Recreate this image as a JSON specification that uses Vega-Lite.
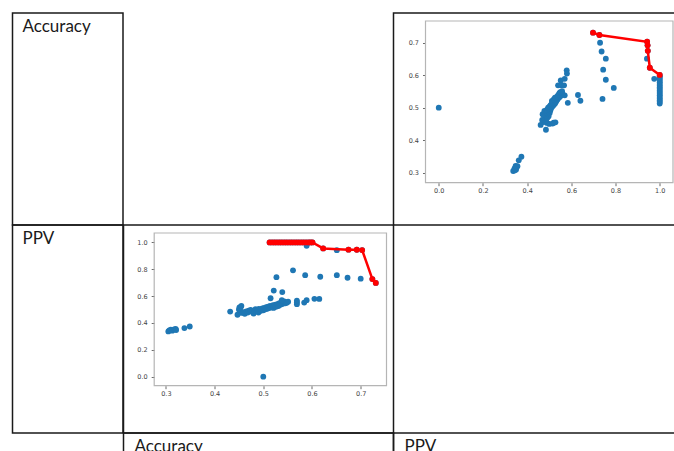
{
  "$schema": "https://vega.github.io/schema/vega-lite/v6.json",
  "padding": {"left": 11.5, "top": 12, "right": 0, "bottom": 0},
  "background": "white",
  "columns": 3,
  "spacing": 0,
  "align": "each",
  "bounds": "flush",
  "config": {
    "view": {"stroke": "#1a1a1a", "strokeWidth": 1.5},
    "axis": {"labelFont": "DejaVu Sans", "labelFontSize": 6.5, "labelColor": "#444", "tickColor": "#444", "tickSize": 3, "tickWidth": 0.8, "grid": false, "domain": false},
    "text": {"font": "Lato", "fontSize": 17, "color": "#1a1a1a"}
  },
  "datasets": {
    "pts": [
      {"acc": 0.305, "ppv": 0.337, "fa": 0, "fb": 0},
      {"acc": 0.307, "ppv": 0.345, "fa": 0, "fb": 0},
      {"acc": 0.31, "ppv": 0.35, "fa": 0, "fb": 0},
      {"acc": 0.313, "ppv": 0.343, "fa": 0, "fb": 0},
      {"acc": 0.317, "ppv": 0.352, "fa": 0, "fb": 0},
      {"acc": 0.32, "ppv": 0.356, "fa": 0, "fb": 0},
      {"acc": 0.321, "ppv": 0.348, "fa": 0, "fb": 0},
      {"acc": 0.338, "ppv": 0.362, "fa": 0, "fb": 0},
      {"acc": 0.349, "ppv": 0.374, "fa": 0, "fb": 0},
      {"acc": 0.5, "ppv": 0.0, "fa": 0, "fb": 0},
      {"acc": 0.432, "ppv": 0.485, "fa": 0, "fb": 0},
      {"acc": 0.447, "ppv": 0.461, "fa": 0, "fb": 0},
      {"acc": 0.45, "ppv": 0.5, "fa": 0, "fb": 0},
      {"acc": 0.451, "ppv": 0.515, "fa": 0, "fb": 0},
      {"acc": 0.454, "ppv": 0.52, "fa": 0, "fb": 0},
      {"acc": 0.455, "ppv": 0.528, "fa": 0, "fb": 0},
      {"acc": 0.453, "ppv": 0.49, "fa": 0, "fb": 0},
      {"acc": 0.456, "ppv": 0.475, "fa": 0, "fb": 0},
      {"acc": 0.46, "ppv": 0.48, "fa": 0, "fb": 0},
      {"acc": 0.462, "ppv": 0.468, "fa": 0, "fb": 0},
      {"acc": 0.465, "ppv": 0.487, "fa": 0, "fb": 0},
      {"acc": 0.468, "ppv": 0.478, "fa": 0, "fb": 0},
      {"acc": 0.47, "ppv": 0.492, "fa": 0, "fb": 0},
      {"acc": 0.474, "ppv": 0.497, "fa": 0, "fb": 0},
      {"acc": 0.477, "ppv": 0.484, "fa": 0, "fb": 0},
      {"acc": 0.48, "ppv": 0.47, "fa": 0, "fb": 0},
      {"acc": 0.482, "ppv": 0.49, "fa": 0, "fb": 0},
      {"acc": 0.484, "ppv": 0.502, "fa": 0, "fb": 0},
      {"acc": 0.486, "ppv": 0.486, "fa": 0, "fb": 0},
      {"acc": 0.488, "ppv": 0.495, "fa": 0, "fb": 0},
      {"acc": 0.49, "ppv": 0.478, "fa": 0, "fb": 0},
      {"acc": 0.491, "ppv": 0.505, "fa": 0, "fb": 0},
      {"acc": 0.494, "ppv": 0.49, "fa": 0, "fb": 0},
      {"acc": 0.496, "ppv": 0.5, "fa": 0, "fb": 0},
      {"acc": 0.498, "ppv": 0.508, "fa": 0, "fb": 0},
      {"acc": 0.5, "ppv": 0.495, "fa": 0, "fb": 0},
      {"acc": 0.502, "ppv": 0.512, "fa": 0, "fb": 0},
      {"acc": 0.504, "ppv": 0.502, "fa": 0, "fb": 0},
      {"acc": 0.506, "ppv": 0.517, "fa": 0, "fb": 0},
      {"acc": 0.508, "ppv": 0.506, "fa": 0, "fb": 0},
      {"acc": 0.51, "ppv": 0.522, "fa": 0, "fb": 0},
      {"acc": 0.512, "ppv": 0.511, "fa": 0, "fb": 0},
      {"acc": 0.514, "ppv": 0.527, "fa": 0, "fb": 0},
      {"acc": 0.516, "ppv": 0.516, "fa": 0, "fb": 0},
      {"acc": 0.518, "ppv": 0.522, "fa": 0, "fb": 0},
      {"acc": 0.52, "ppv": 0.532, "fa": 0, "fb": 0},
      {"acc": 0.521, "ppv": 0.512, "fa": 0, "fb": 0},
      {"acc": 0.523, "ppv": 0.527, "fa": 0, "fb": 0},
      {"acc": 0.525, "ppv": 0.537, "fa": 0, "fb": 0},
      {"acc": 0.526, "ppv": 0.521, "fa": 0, "fb": 0},
      {"acc": 0.528, "ppv": 0.531, "fa": 0, "fb": 0},
      {"acc": 0.53, "ppv": 0.542, "fa": 0, "fb": 0},
      {"acc": 0.531, "ppv": 0.526, "fa": 0, "fb": 0},
      {"acc": 0.533, "ppv": 0.547, "fa": 0, "fb": 0},
      {"acc": 0.535, "ppv": 0.536, "fa": 0, "fb": 0},
      {"acc": 0.537, "ppv": 0.552, "fa": 0, "fb": 0},
      {"acc": 0.539, "ppv": 0.541, "fa": 0, "fb": 0},
      {"acc": 0.541, "ppv": 0.556, "fa": 0, "fb": 0},
      {"acc": 0.543, "ppv": 0.56, "fa": 0, "fb": 0},
      {"acc": 0.545, "ppv": 0.546, "fa": 0, "fb": 0},
      {"acc": 0.546, "ppv": 0.555, "fa": 0, "fb": 0},
      {"acc": 0.548, "ppv": 0.55, "fa": 0, "fb": 0},
      {"acc": 0.551, "ppv": 0.558, "fa": 0, "fb": 0},
      {"acc": 0.538, "ppv": 0.57, "fa": 0, "fb": 0},
      {"acc": 0.569, "ppv": 0.54, "fa": 0, "fb": 0},
      {"acc": 0.569, "ppv": 0.555, "fa": 0, "fb": 0},
      {"acc": 0.569, "ppv": 0.567, "fa": 0, "fb": 0},
      {"acc": 0.584, "ppv": 0.552, "fa": 0, "fb": 0},
      {"acc": 0.589, "ppv": 0.57, "fa": 0, "fb": 0},
      {"acc": 0.515, "ppv": 0.584, "fa": 0, "fb": 0},
      {"acc": 0.615, "ppv": 0.579, "fa": 0, "fb": 0},
      {"acc": 0.605, "ppv": 0.58, "fa": 0, "fb": 0},
      {"acc": 0.539, "ppv": 0.63, "fa": 0, "fb": 0},
      {"acc": 0.5215, "ppv": 0.641, "fa": 0, "fb": 0},
      {"acc": 0.527, "ppv": 0.741, "fa": 0, "fb": 0},
      {"acc": 0.561, "ppv": 0.792, "fa": 0, "fb": 0},
      {"acc": 0.586, "ppv": 0.756, "fa": 0, "fb": 0},
      {"acc": 0.617, "ppv": 0.744, "fa": 0, "fb": 0},
      {"acc": 0.651, "ppv": 0.756, "fa": 0, "fb": 0},
      {"acc": 0.673, "ppv": 0.737, "fa": 0, "fb": 0},
      {"acc": 0.7, "ppv": 0.73, "fa": 0, "fb": 0},
      {"acc": 0.651, "ppv": 0.942, "fa": 0, "fb": 0},
      {"acc": 0.589, "ppv": 0.975, "fa": 0, "fb": 0},
      {"acc": 0.513, "ppv": 1.0, "fa": 0, "fb": 1},
      {"acc": 0.518, "ppv": 1.0, "fa": 0, "fb": 1},
      {"acc": 0.523, "ppv": 1.0, "fa": 0, "fb": 1},
      {"acc": 0.528, "ppv": 1.0, "fa": 0, "fb": 1},
      {"acc": 0.533, "ppv": 1.0, "fa": 0, "fb": 1},
      {"acc": 0.538, "ppv": 1.0, "fa": 0, "fb": 1},
      {"acc": 0.543, "ppv": 1.0, "fa": 0, "fb": 1},
      {"acc": 0.548, "ppv": 1.0, "fa": 0, "fb": 1},
      {"acc": 0.553, "ppv": 1.0, "fa": 0, "fb": 1},
      {"acc": 0.558, "ppv": 1.0, "fa": 0, "fb": 1},
      {"acc": 0.563, "ppv": 1.0, "fa": 0, "fb": 1},
      {"acc": 0.568, "ppv": 1.0, "fa": 0, "fb": 1},
      {"acc": 0.573, "ppv": 1.0, "fa": 0, "fb": 1},
      {"acc": 0.578, "ppv": 1.0, "fa": 0, "fb": 1},
      {"acc": 0.583, "ppv": 1.0, "fa": 0, "fb": 1},
      {"acc": 0.588, "ppv": 1.0, "fa": 0, "fb": 1},
      {"acc": 0.593, "ppv": 1.0, "fa": 0, "fb": 1},
      {"acc": 0.597, "ppv": 1.0, "fa": 0, "fb": 1},
      {"acc": 0.601, "ppv": 1.0, "fa": 1, "fb": 1},
      {"acc": 0.623, "ppv": 0.955, "fa": 1, "fb": 1},
      {"acc": 0.675, "ppv": 0.946, "fa": 1, "fb": 1},
      {"acc": 0.692, "ppv": 0.945, "fa": 1, "fb": 1},
      {"acc": 0.703, "ppv": 0.943, "fa": 1, "fb": 1},
      {"acc": 0.724, "ppv": 0.727, "fa": 1, "fb": 1},
      {"acc": 0.731, "ppv": 0.698, "fa": 1, "fb": 1}
    ]
  },
  "concat": [
    {
      "width": 110.5, "height": 212,
      "data": {"values": [{"label": "Accuracy"}]},
      "mark": {"type": "text", "align": "left", "baseline": "alphabetic", "dx": 10, "dy": 19},
      "encoding": {
        "x": {"datum": 0, "type": "quantitative", "scale": {"domain": [0, 1]}, "axis": null},
        "y": {"datum": 1, "type": "quantitative", "scale": {"domain": [0, 1]}, "axis": null},
        "text": {"field": "label"}
      }
    },
    {
      "width": 270, "height": 212,
      "data": {"values": []},
      "mark": "point",
      "encoding": {}
    },
    {
      "width": 290, "height": 212,
      "data": {"name": "pts"},
      "layer": [
        {
          "data": {"values": [{}]},
          "mark": {"type": "rect", "fill": "transparent", "stroke": "#b5b5b5", "strokeWidth": 1.2},
          "encoding": {
            "x": {"datum": -0.06, "type": "quantitative"},
            "x2": {"datum": 1.06},
            "y": {"datum": 0.269, "type": "quantitative"},
            "y2": {"datum": 0.767}
          }
        },
        {
          "mark": {"type": "circle", "size": 34, "opacity": 1, "color": "#1f77b4"},
          "encoding": {
            "x": {"field": "ppv", "type": "quantitative", "scale": {"domain": [-0.06, 1.06], "range": [32, 279.5], "nice": false, "zero": false},
                  "axis": {"orient": "bottom", "offset": -42.3, "values": [0, 0.2, 0.4, 0.6, 0.8, 1.0], "format": ".1f", "title": null, "labelPadding": 2}},
            "y": {"field": "acc", "type": "quantitative", "scale": {"domain": [0.269, 0.767], "range": [169.7, 8], "nice": false, "zero": false},
                  "axis": {"orient": "left", "offset": -32, "values": [0.3, 0.4, 0.5, 0.6, 0.7], "format": ".1f", "title": null, "labelPadding": 4}}
          }
        },
        {
          "transform": [{"filter": "datum.fa == 1"}],
          "mark": {"type": "line", "color": "#ff0000", "strokeWidth": 2.5},
          "encoding": {
            "x": {"field": "ppv", "type": "quantitative"},
            "y": {"field": "acc", "type": "quantitative"}
          }
        },
        {
          "transform": [{"filter": "datum.fa == 1"}],
          "mark": {"type": "circle", "size": 34, "opacity": 1, "color": "#ff0000"},
          "encoding": {
            "x": {"field": "ppv", "type": "quantitative"},
            "y": {"field": "acc", "type": "quantitative"}
          }
        }
      ]
    },
    {
      "width": 110.5, "height": 208,
      "data": {"values": [{"label": "PPV"}]},
      "mark": {"type": "text", "align": "left", "baseline": "alphabetic", "dx": 10, "dy": 19},
      "encoding": {
        "x": {"datum": 0, "type": "quantitative", "scale": {"domain": [0, 1]}, "axis": null},
        "y": {"datum": 1, "type": "quantitative", "scale": {"domain": [0, 1]}, "axis": null},
        "text": {"field": "label"}
      }
    },
    {
      "width": 270, "height": 208,
      "data": {"name": "pts"},
      "layer": [
        {
          "data": {"values": [{}]},
          "mark": {"type": "rect", "fill": "transparent", "stroke": "#b5b5b5", "strokeWidth": 1.2},
          "encoding": {
            "x": {"datum": 0.276, "type": "quantitative"},
            "x2": {"datum": 0.753},
            "y": {"datum": -0.067, "type": "quantitative"},
            "y2": {"datum": 1.07}
          }
        },
        {
          "mark": {"type": "circle", "size": 34, "opacity": 1, "color": "#1f77b4"},
          "encoding": {
            "x": {"field": "acc", "type": "quantitative", "scale": {"domain": [0.276, 0.753], "range": [30.7, 263], "nice": false, "zero": false},
                  "axis": {"orient": "bottom", "offset": -47.3, "values": [0.3, 0.4, 0.5, 0.6, 0.7], "format": ".1f", "title": null, "labelPadding": 2}},
            "y": {"field": "ppv", "type": "quantitative", "scale": {"domain": [-0.067, 1.07], "range": [160.7, 8], "nice": false, "zero": false},
                  "axis": {"orient": "left", "offset": -30.7, "values": [0, 0.2, 0.4, 0.6, 0.8, 1.0], "format": ".1f", "title": null, "labelPadding": 4}}
          }
        },
        {
          "transform": [{"filter": "datum.fb == 1"}],
          "mark": {"type": "line", "color": "#ff0000", "strokeWidth": 2.5},
          "encoding": {
            "x": {"field": "acc", "type": "quantitative"},
            "y": {"field": "ppv", "type": "quantitative"}
          }
        },
        {
          "transform": [{"filter": "datum.fb == 1"}],
          "mark": {"type": "circle", "size": 34, "opacity": 1, "color": "#ff0000"},
          "encoding": {
            "x": {"field": "acc", "type": "quantitative"},
            "y": {"field": "ppv", "type": "quantitative"}
          }
        }
      ]
    },
    {
      "width": 290, "height": 208,
      "data": {"values": []},
      "mark": "point",
      "encoding": {}
    },
    {
      "width": 110.5, "height": 40,
      "data": {"values": []},
      "mark": "point",
      "encoding": {}
    },
    {
      "width": 270, "height": 40,
      "data": {"values": [{"label": "Accuracy"}]},
      "mark": {"type": "text", "align": "left", "baseline": "alphabetic", "dx": 11, "dy": 19},
      "encoding": {
        "x": {"datum": 0, "type": "quantitative", "scale": {"domain": [0, 1]}, "axis": null},
        "y": {"datum": 1, "type": "quantitative", "scale": {"domain": [0, 1]}, "axis": null},
        "text": {"field": "label"}
      }
    },
    {
      "width": 290, "height": 40,
      "data": {"values": [{"label": "PPV"}]},
      "mark": {"type": "text", "align": "left", "baseline": "alphabetic", "dx": 11, "dy": 19},
      "encoding": {
        "x": {"datum": 0, "type": "quantitative", "scale": {"domain": [0, 1]}, "axis": null},
        "y": {"datum": 1, "type": "quantitative", "scale": {"domain": [0, 1]}, "axis": null},
        "text": {"field": "label"}
      }
    }
  ]
}
